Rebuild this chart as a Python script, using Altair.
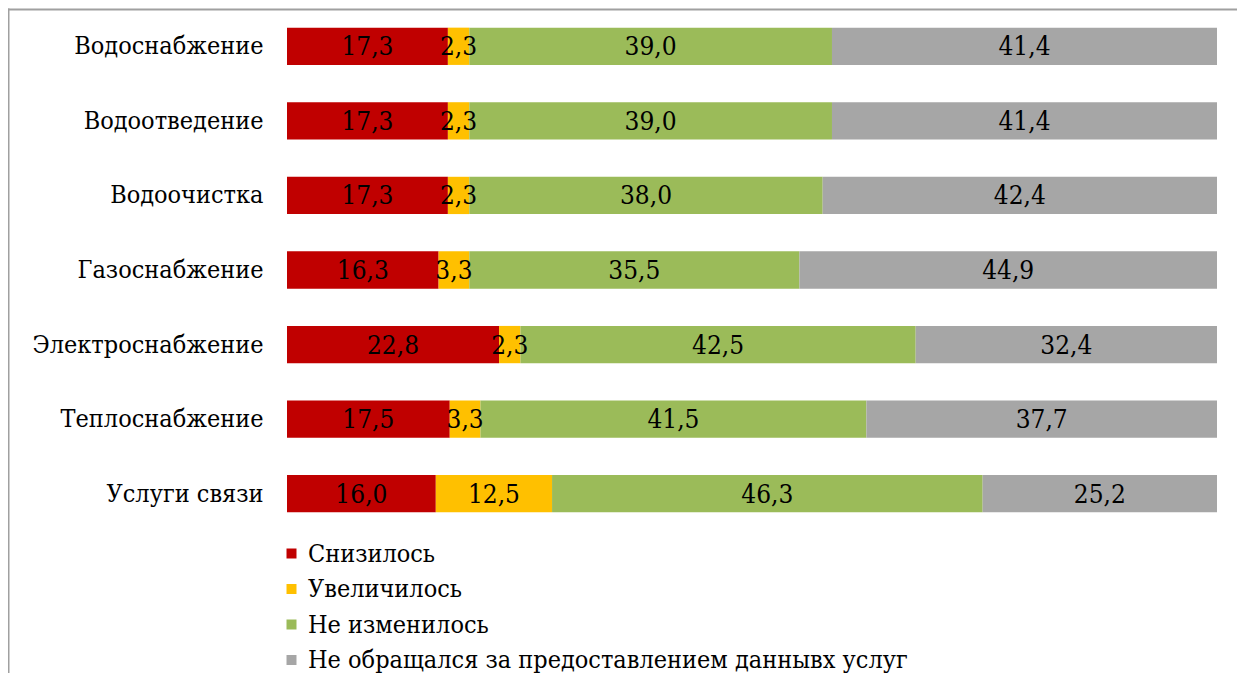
import altair as alt
import pandas as pd

categories = ["Водоснабжение", "Водоотведение", "Водоочистка", "Газоснабжение",
              "Электроснабжение", "Теплоснабжение", "Услуги связи"]
series = ["Снизилось", "Увеличилось", "Не изменилось",
          "Не обращался за предоставлением даннывх услуг"]
colors = ["#C00000", "#FFC000", "#9BBB59", "#A6A6A6"]

snizilos = [17.3, 17.3, 17.3, 16.3, 22.8, 17.5, 16.0]
uvelichilos = [2.3, 2.3, 2.3, 3.3, 2.3, 3.3, 12.5]
ne_izmenilos = [39.0, 39.0, 38.0, 35.5, 42.5, 41.5, 46.3]
ne_obrashchalsya = [41.4, 41.4, 42.4, 44.9, 32.4, 37.7, 25.2]

rows = []
for i, c in enumerate(categories):
    for j, vals in enumerate([snizilos, uvelichilos, ne_izmenilos, ne_obrashchalsya]):
        rows.append({"cat": c, "series": series[j], "order": j, "value": vals[i]})
df = pd.DataFrame(rows)

FONT = "DejaVu Serif Condensed"
W, H = 930, 522

y_enc = alt.Y("cat:N", sort=categories,
              scale=alt.Scale(paddingInner=0.5, paddingOuter=0.25),
              axis=alt.Axis(title=None, domain=False, ticks=False, labelFont=FONT,
                            labelFontSize=25, labelColor="black", labelPadding=24,
                            labelLimit=300))

base = alt.Chart(df).transform_stack(
    stack="value", as_=["x0", "x1"], groupby=["cat"],
    sort=[alt.SortField("order", order="ascending")]
)

bars = base.mark_bar().encode(
    x=alt.X("x0:Q", scale=alt.Scale(domain=[0, 100], nice=False, zero=True), axis=None),
    x2="x1:Q",
    y=y_enc,
    color=alt.Color("series:N", sort=series,
                    scale=alt.Scale(domain=series, range=colors),
                    legend=alt.Legend(title=None, orient="none", legendX=-8, legendY=532,
                                      symbolType="square", symbolSize=100,
                                      symbolStrokeWidth=0, labelFont=FONT,
                                      labelFontSize=25, labelColor="black",
                                      labelOffset=4, rowPadding=9.5,
                                      labelLimit=900)),
)

texts = base.transform_calculate(
    mid="(datum.x0 + datum.x1) / 2",
    label="replace(format(datum.value, '.1f'), '.', ',')",
).mark_text(font=FONT, fontSize=26, color="black", baseline="middle", dy=1).encode(
    x=alt.X("mid:Q", scale=alt.Scale(domain=[0, 100], nice=False)),
    y=alt.Y("cat:N", sort=categories),
    text="label:N",
)

frame_df = pd.DataFrame({"k": [0]})
top_line = alt.Chart(frame_df).mark_rule(color="#A0A0A0", strokeWidth=2, clip=False).encode(
    x=alt.value(-279), x2=alt.value(1000), y=alt.value(0.5))
left_line = alt.Chart(frame_df).mark_rule(color="#A0A0A0", strokeWidth=2, clip=False).encode(
    x=alt.value(-278.5), y=alt.value(-0.5), y2=alt.value(700))

chart = alt.layer(bars, texts, top_line, left_line).properties(
    width=W, height=H,
    autosize=alt.AutoSizeParams(type="none"),
    padding={"left": 279, "top": 1, "right": 20, "bottom": 142},
).configure_view(stroke=None)

chart.save("out.html", embed_options={"renderer": "svg", "actions": False})
